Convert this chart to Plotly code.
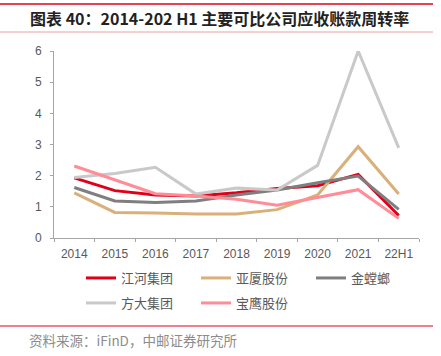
import plotly.graph_objects as go

categories = ["2014", "2015", "2016", "2017", "2018", "2019", "2020", "2021", "22H1"]
jianghe = [1.93, 1.52, 1.38, 1.35, 1.45, 1.59, 1.68, 2.04, 0.72]
yasha = [1.45, 0.82, 0.80, 0.77, 0.77, 0.91, 1.38, 2.93, 1.41]
jintanglang = [1.62, 1.19, 1.14, 1.19, 1.38, 1.54, 1.77, 1.99, 0.92]
fangda = [1.94, 2.07, 2.27, 1.41, 1.60, 1.54, 2.33, 6.00, 2.89]
baoying = [2.31, 1.86, 1.42, 1.35, 1.24, 1.05, 1.29, 1.55, 0.63]

series_names = ["江河集团", "亚厦股份", "金螳螂", "方大集团", "宝鹰股份"]
series_values = [jianghe, yasha, jintanglang, fangda, baoying]
colors = ["#E0001A", "#D9B07A", "#7F7F81", "#C9C9C9", "#FF8C96"]
legend_rows = ["legend", "legend", "legend", "legend2", "legend2"]

title_text = "图表 40：2014-202 H1 主要可比公司应收账款周转率"
source_text = "资料来源：iFinD，中邮证券研究所"

CJK = "Noto Sans CJK SC"
PW, PH = 365, 187  # plot area size in px


def px_x(x):
    return (x - 54) / PW


def px_y(y):
    return (238 - y) / PH


fig = go.Figure()
for name, vals, c, lg in zip(series_names, series_values, colors, legend_rows):
    fig.add_trace(go.Scatter(x=categories, y=vals, name=name, mode="lines",
                             line=dict(color=c, width=3), cliponaxis=False, legend=lg))

legend_common = dict(orientation="h", x=px_x(81), xanchor="left", yanchor="middle",
                     font=dict(family=CJK, size=13, color="#595959"),
                     entrywidth=70, entrywidthmode="pixels",
                     itemwidth=30, bgcolor="rgba(0,0,0,0)")

fig.update_layout(
    width=441, height=356,
    margin=dict(l=54, r=22, t=51, b=118, autoexpand=False),
    paper_bgcolor="white", plot_bgcolor="white",
    showlegend=True,
    legend=dict(y=px_y(278), **legend_common),
    legend2=dict(y=px_y(303), **legend_common),
    xaxis=dict(type="category", range=[-0.5, 8.5], showline=True, linecolor="#A6A6A6", linewidth=1,
               ticks="outside", tickson="boundaries", ticklen=3, tickcolor="#A6A6A6",
               ticklabelstandoff=5,
               tickfont=dict(family="Liberation Sans", size=12, color="#595959"),
               showgrid=False, zeroline=False, automargin=False),
    yaxis=dict(range=[0, 6], dtick=1, showline=True, linecolor="#A6A6A6", linewidth=1,
               ticks="outside", ticklen=3, tickcolor="#A6A6A6",
               ticklabelstandoff=6,
               tickfont=dict(family="Liberation Sans", size=12, color="#595959"),
               showgrid=False, zeroline=False, automargin=False),
)

fig.add_annotation(text="<b>" + title_text + "</b>", xref="paper", yref="paper",
                   x=px_x(28), xanchor="left", y=px_y(18), yanchor="middle",
                   showarrow=False, font=dict(family=CJK, size=16, color="#222222"))
fig.add_annotation(text=source_text, xref="paper", yref="paper",
                   x=px_x(27), xanchor="left", y=px_y(340), yanchor="middle",
                   showarrow=False, font=dict(family=CJK, size=13.5, color="#8C8C8C"))

# decorative rules
for yy, col, w in [(4, "#E0001A", 1.5), (32, "#E8A0A0", 1), (326, "#E0001A", 1)]:
    fig.add_shape(type="line", xref="paper", yref="paper",
                  x0=px_x(0), x1=px_x(433), y0=px_y(yy), y1=px_y(yy),
                  line=dict(color=col, width=w))

fig.write_html("out.html",
               config={"displayModeBar": False},
               post_script="document.body.style.margin='0';document.body.style.padding='0';")
